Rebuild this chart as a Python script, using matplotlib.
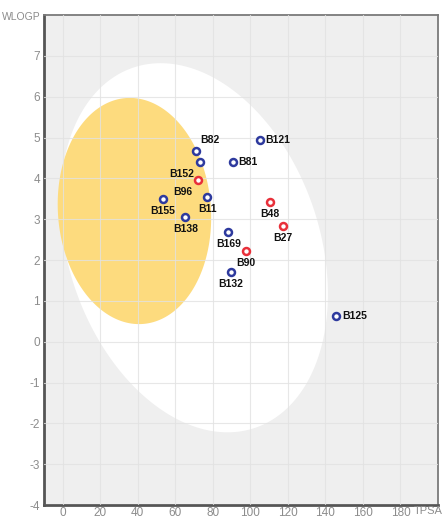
import numpy as np
import matplotlib
import matplotlib.pyplot as plt

matplotlib.use('Agg')
plt.rcParams['axes.unicode_minus'] = False

# molecules: TPSA (x), WLOGP (y)
names = ['B82', 'B152', 'B96', 'B11', 'B155', 'B138', 'B169', 'B132',
         'B81', 'B121', 'B48', 'B27', 'B90', 'B125']
tpsa = [71.0, 72.9, 72.2, 77.0, 53.5, 65.3, 88.3, 89.7,
        90.5, 105.2, 110.5, 117.5, 97.7, 145.9]
wlogp = [4.67, 4.39, 3.97, 3.54, 3.49, 3.05, 2.68, 1.71,
         4.39, 4.94, 3.41, 2.84, 2.23, 0.62]
pgp_substrate = [True, True, False, True, True, True, True, True,
                 True, True, False, False, False, True]
# where the label sits relative to the point
label_pos = ['upright', 'downleft', 'downleft', 'down', 'down', 'down', 'down', 'down',
             'right', 'right', 'down', 'down', 'down', 'right']

x_ticks = list(range(0, 181, 20))
y_ticks = list(range(-4, 8))

# egg: white (HIA) and yolk (BBB) ellipses, centre / half extents / skew
white_egg = dict(cx=70.0, cy=2.3, ex=71.3, ey=4.52, rho=-0.25)
yolk_egg = dict(cx=38.2, cy=3.2, ex=40.9, ey=2.77, rho=-0.06)

BLUE = '#2e3a9e'
RED = '#e8303a'
GRID = '#e2e2e2'
TICK = '#8c8c8c'
FONT = ['Liberation Sans Narrow', 'Liberation Sans', 'DejaVu Sans']


def egg_outline(cx, cy, ex, ey, rho):
    t = np.linspace(0, 2 * np.pi, 400)
    phi = np.arccos(rho)
    return cx + ex * np.cos(t), cy + ey * np.cos(t - phi)


fig = plt.figure(figsize=(4.46, 5.18), dpi=100)
ax = fig.add_axes([44 / 446, 1 - 505 / 518, 394 / 446, 490 / 518])
ax.set_facecolor('#efefef')
ax.set_xlim(-10, 200)
ax.set_ylim(-4, 8)

wx, wy = egg_outline(**white_egg)
ax.fill(wx, wy, color='white', lw=0, zorder=1)
yx, yy = egg_outline(**yolk_egg)
ax.fill(yx, yy, color='#fddb7e', lw=0, zorder=2)

for v in x_ticks:
    ax.axvline(v, color=GRID, lw=0.8, alpha=0.8, zorder=3)
for v in y_ticks:
    ax.axhline(v, color=GRID, lw=0.8, alpha=0.8, zorder=3)

offsets = {'right': ((4, 0), 'left', 'center'),
           'down': ((0, -5), 'center', 'top'),
           'downleft': ((-4, -5), 'right', 'top'),
           'upright': ((3, 4), 'left', 'bottom')}

for n, x, y, pgp, pos in zip(names, tpsa, wlogp, pgp_substrate, label_pos):
    c = BLUE if pgp else RED
    ax.plot(x, y, 'o', ms=5, mfc='white', mec=c, mew=1.8, zorder=5)
    (dx, dy), ha, va = offsets[pos]
    ax.annotate(n, (x, y), xytext=(dx, dy), textcoords='offset points',
                ha=ha, va=va, fontsize=7.5, fontweight='bold', color='#111111',
                family=FONT, zorder=6)

ax.set_xticks(x_ticks)
ax.set_yticks(y_ticks)
ax.tick_params(length=0, colors=TICK, labelsize=8.5)
ax.tick_params(axis='x', pad=1.5)
ax.tick_params(axis='y', pad=3)
for lab in ax.get_xticklabels() + ax.get_yticklabels():
    lab.set_family(FONT)

for side in ['top', 'right']:
    ax.spines[side].set_color('#7a7a7a')
    ax.spines[side].set_linewidth(1.3)
for side in ['left', 'bottom']:
    ax.spines[side].set_color('#555555')
    ax.spines[side].set_linewidth(2)

fig.text(41 / 446, 1 - 17 / 518, 'WLOGP', color=TICK, fontsize=7.5, family=FONT,
         ha='right', va='center')
fig.text(443 / 446, 1 - 511 / 518, 'TPSA', color=TICK, fontsize=8, family=FONT,
         ha='right', va='center')

fig.savefig('out.png', dpi=100)
plt.close(fig)
